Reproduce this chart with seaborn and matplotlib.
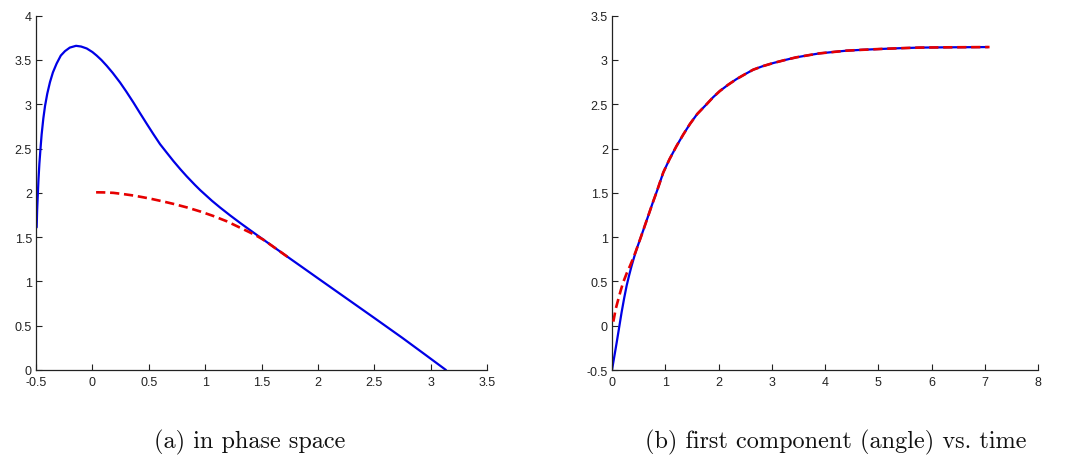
import numpy as np
import pandas as pd
import matplotlib
matplotlib.use("Agg")
import matplotlib.pyplot as plt
import seaborn as sns

# ---- phase-space trajectory (angle, angular velocity) ----
phase_theta = [-0.494, -0.490, -0.485, -0.478, -0.470, -0.460, -0.450, -0.435,
               -0.420, -0.400, -0.376, -0.350, -0.317, -0.280, -0.243, -0.200,
               -0.145, -0.100, -0.050, 0.000, 0.038, 0.080, 0.127, 0.180,
               0.246, 0.300, 0.364, 0.420, 0.482, 0.540, 0.600, 0.660,
               0.720, 0.780, 0.837, 0.910, 0.956, 1.060, 1.133, 1.220,
               1.310, 1.400, 1.500, 1.620, 1.754, 1.870, 2.000, 2.250,
               2.500, 2.750, 2.950, 3.136]
phase_omega = [1.61, 1.80, 1.95, 2.15, 2.33, 2.50, 2.66, 2.84,
               2.98, 3.12, 3.25, 3.36, 3.46, 3.55, 3.60, 3.64,
               3.66, 3.652, 3.63, 3.59, 3.55, 3.50, 3.435, 3.355,
               3.245, 3.145, 3.02, 2.905, 2.78, 2.665, 2.55, 2.453,
               2.357, 2.267, 2.186, 2.089, 2.031, 1.911, 1.834, 1.747,
               1.661, 1.578, 1.487, 1.378, 1.257, 1.153, 1.036, 0.812,
               0.588, 0.362, 0.175, 0.0]

# reference (linearised) trajectory in phase space
ref_theta = [0.033, 0.100, 0.186, 0.280, 0.364, 0.450, 0.512, 0.620, 0.720,
             0.840, 0.956, 1.070, 1.190, 1.280, 1.370, 1.450, 1.520, 1.620,
             1.750]
ref_omega = [2.006, 2.005, 2.000, 1.985, 1.970, 1.950, 1.935, 1.905, 1.875,
             1.835, 1.790, 1.740, 1.680, 1.625, 1.570, 1.520, 1.468, 1.378,
             1.260]

# ---- first component (angle) vs. time ----
time_sim = [0.0, 0.044, 0.088, 0.134, 0.180, 0.228, 0.275, 0.322, 0.369,
            0.416, 0.463, 0.530, 0.600, 0.680, 0.760, 0.850, 0.963, 1.080,
            1.213, 1.340, 1.463, 1.600, 1.776, 1.900, 2.026, 2.180, 2.340,
            2.500, 2.650, 2.830, 3.030, 3.250, 3.460, 3.700, 3.900, 4.150,
            4.400, 4.700, 5.030, 5.400, 5.780, 6.300, 7.060]
angle_sim = [-0.50, -0.345, -0.19, -0.02, 0.15, 0.31, 0.452, 0.57, 0.678,
             0.775, 0.866, 0.98, 1.10, 1.24, 1.38, 1.53, 1.73, 1.88,
             2.03, 2.16, 2.277, 2.39, 2.50, 2.58, 2.65, 2.72, 2.785,
             2.84, 2.89, 2.93, 2.966, 3.00, 3.03, 3.055, 3.075, 3.09,
             3.105, 3.115, 3.124, 3.133, 3.14, 3.143, 3.146]

time_ref = [0.025, 0.070, 0.119, 0.165, 0.210, 0.275, 0.340, 0.400, 0.463,
            0.530, 0.600, 0.680, 0.760, 0.850, 0.963, 1.080, 1.213, 1.340,
            1.463, 1.600, 1.776, 1.900, 2.026, 2.180, 2.340, 2.500, 2.650,
            2.830, 3.030, 3.250, 3.460, 3.700, 3.900, 4.150, 4.400, 4.700,
            5.030, 5.400, 5.780, 6.300, 7.090]
angle_ref = [0.046, 0.19, 0.30, 0.40, 0.49, 0.59, 0.678, 0.765, 0.866,
             0.98, 1.10, 1.24, 1.38, 1.53, 1.73, 1.88, 2.03, 2.16,
             2.277, 2.39, 2.50, 2.58, 2.65, 2.72, 2.785, 2.84, 2.89,
             2.93, 2.966, 3.00, 3.03, 3.055, 3.075, 3.09, 3.105, 3.115,
             3.124, 3.133, 3.14, 3.143, 3.146]

left_xticks = [-0.5, 0, 0.5, 1, 1.5, 2, 2.5, 3, 3.5]
left_yticks = [0, 0.5, 1, 1.5, 2, 2.5, 3, 3.5, 4]
right_xticks = [0, 1, 2, 3, 4, 5, 6, 7, 8]
right_yticks = [-0.5, 0, 0.5, 1, 1.5, 2, 2.5, 3, 3.5]

captions = ["(a) in phase space", "(b) first component (angle) vs. time"]

BLUE = "#0000e6"
RED = "#e60000"

sns.set_theme(style="ticks")
plt.rcParams["font.family"] = ["Liberation Sans", "DejaVu Sans"]
plt.rcParams["axes.unicode_minus"] = False

fig = plt.figure(figsize=(10.7, 4.6), dpi=100)
ax_l = fig.add_axes([36 / 1070, 1 - 371 / 460, 451 / 1070, 354.3 / 460])
ax_r = fig.add_axes([612 / 1070, 1 - 371 / 460, 426 / 1070, 354.3 / 460])

df_phase = pd.DataFrame({"theta": phase_theta, "omega": phase_omega})
df_phase_ref = pd.DataFrame({"theta": ref_theta, "omega": ref_omega})
df_time = pd.DataFrame({"t": time_sim, "angle": angle_sim})
df_time_ref = pd.DataFrame({"t": time_ref, "angle": angle_ref})

sns.lineplot(data=df_phase, x="theta", y="omega", ax=ax_l, sort=False,
             estimator=None, color=BLUE, linewidth=1.6, zorder=2)
sns.lineplot(data=df_phase_ref, x="theta", y="omega", ax=ax_l, sort=False,
             estimator=None, color=RED, linewidth=1.9, zorder=3)
ax_l.lines[-1].set_dashes((3.5, 1.8))

sns.lineplot(data=df_time, x="t", y="angle", ax=ax_r, sort=False,
             estimator=None, color=BLUE, linewidth=1.6, zorder=2)
sns.lineplot(data=df_time_ref, x="t", y="angle", ax=ax_r, sort=False,
             estimator=None, color=RED, linewidth=1.9, zorder=3)
ax_r.lines[-1].set_dashes((3.5, 1.8))


def fmt(v):
    return "%g" % v


for ax, xt, yt in [(ax_l, left_xticks, left_yticks),
                   (ax_r, right_xticks, right_yticks)]:
    ax.set_xlim(xt[0], xt[-1])
    ax.set_ylim(yt[0], yt[-1])
    ax.set_xticks(xt)
    ax.set_yticks(yt)
    ax.set_xticklabels([fmt(v) for v in xt])
    ax.set_yticklabels([fmt(v) for v in yt])
    ax.set_xlabel("")
    ax.set_ylabel("")
    ax.tick_params(direction="in", length=4, width=0.8, colors="#222222",
                   labelsize=9)
    ax.tick_params(axis="x", pad=4)
    ax.tick_params(axis="y", pad=3)
    for side in ("left", "bottom"):
        ax.spines[side].set_color("#222222")
        ax.spines[side].set_linewidth(0.9)
    sns.despine(ax=ax)
    ax.set_facecolor("white")

fig.text(250 / 1070, 1 - 442 / 460, captions[0], ha="center", va="center",
         fontsize=17.5, family=["cmr10", "DejaVu Serif"], color="#111111")
fig.text(836 / 1070, 1 - 442 / 460, captions[1], ha="center", va="center",
         fontsize=17.5, family=["cmr10", "DejaVu Serif"], color="#111111")

fig.savefig("out.png", dpi=100, facecolor="white")
